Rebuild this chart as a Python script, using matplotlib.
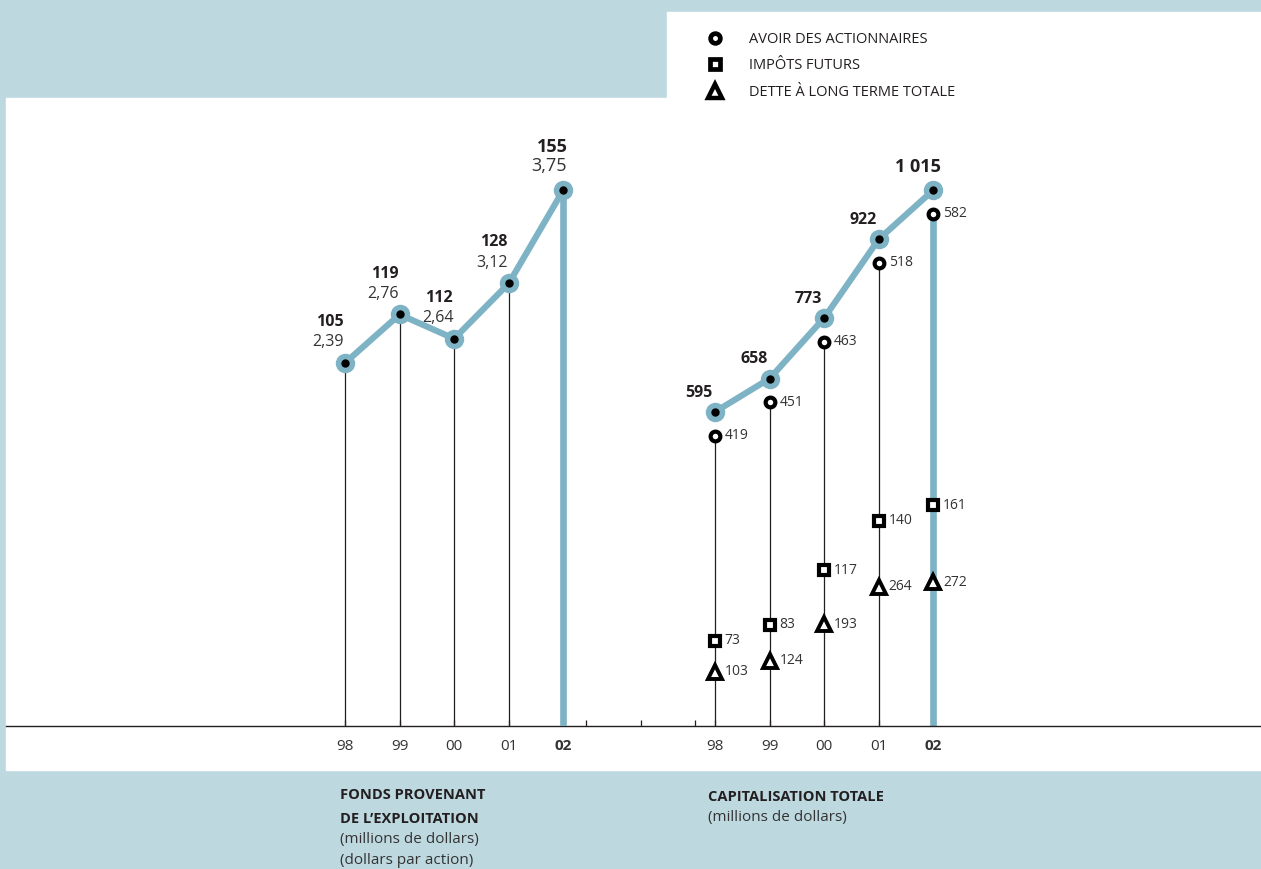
#!/usr/bin/env python3
"""
Fonds provenant de l'exploitation & capitalisation totale, 1998-2002
"""

import matplotlib.pyplot as plt
from matplotlib.lines import Line2D
import matplotlib.patches as mpatches
import numpy as np

plt.rcParams['font.family'] = ['Open Sans', 'DejaVu Sans']

# ---- data ----
years = ['98', '99', '00', '01', '02']
fonds = [105, 119, 112, 128, 155]                 # millions de dollars
fonds_action = ['2,39', '2,76', '2,64', '3,12', '3,75']  # dollars par action
capital_total = [595, 658, 773, 922, 1015]
avoir = [419, 451, 463, 518, 582]
impots = [73, 83, 117, 140, 161]
dette = [103, 124, 193, 264, 272]

BLUE = '#7eb3c5'
BG = '#bed8e0'
INK = '#231f20'

# layout (slot units along x)
x_left = np.arange(5)
x_right = np.arange(5) + 6.78
x_minor = [4.42, 5.42, 6.42]
GAP_CIRCLE = 45   # data units the "avoir" marker sits below the total point
GAP_SQUARE = 15

fig = plt.figure(figsize=(12.61, 8.69), dpi=100, facecolor=BG)

# white panels
fig.add_artist(mpatches.Rectangle((6 / 1261, 99 / 869), 1255 / 1261, 672 / 869,
                                  transform=fig.transFigure, color='white', zorder=0))
fig.add_artist(mpatches.Rectangle((667 / 1261, 771 / 869), 594 / 1261, 86 / 869,
                                  transform=fig.transFigure, color='white', zorder=0))

ax = fig.add_axes([6 / 1261, 143 / 869, 1255 / 1261, 628 / 869])
ax.set_facecolor('none')
ax.set_xlim(-6.21, 16.78)
top_right = 1015 * 628 / 536
ax.set_ylim(0, top_right)

axl = ax.twinx()
axl.set_ylim(0, top_right * fonds[-1] / capital_total[-1])

for a in (ax, axl):
    for s in a.spines.values():
        s.set_visible(False)
    a.set_yticks([])
ax.spines['bottom'].set_visible(True)
ax.spines['bottom'].set_linewidth(1.0)
ax.spines['bottom'].set_color(INK)

ax.set_xticks(list(x_left) + list(x_right))
ax.set_xticklabels(years + years)
ax.set_xticks(x_minor, minor=True)
ax.tick_params(axis='x', which='both', direction='in', length=4.5, width=0.9,
               color=INK, labelsize=11, labelcolor='#333333', pad=9.5)
for i, lab in enumerate(ax.get_xticklabels()):
    if years[i % 5] == '02':
        lab.set_fontweight('bold')

# =========== left: fonds provenant de l'exploitation ===========
axl.vlines(x_left[:-1], 0, fonds[:-1], color=INK, lw=0.9, zorder=2)
axl.vlines(x_left[-1], 0, fonds[-1], color=BLUE, lw=4.8, zorder=2)
axl.plot(x_left, fonds, color=BLUE, lw=4.5, marker='o', ms=13, mfc=BLUE, mec=BLUE,
         zorder=3, clip_on=False, solid_capstyle='round')
axl.plot(x_left, fonds, ls='none', marker='o', ms=5, color='black', zorder=4, clip_on=False)

for i, (x, v, d) in enumerate(zip(x_left, fonds, fonds_action)):
    last = i == len(fonds) - 1
    fs = 13 if last else 11.5
    axl.annotate(str(v), (x, v), xytext=(-8 if last else -11, 31 if last else 29.5),
                 textcoords='offset points', ha='center', va='center',
                 fontsize=fs, fontweight='bold', color=INK)
    axl.annotate(d, (x, v), xytext=(-10 if last else -12, 17 if last else 15),
                 textcoords='offset points', ha='center', va='center',
                 fontsize=fs, color='#333333')

# =========== right: capitalisation totale ===========
circle_y = [t - GAP_CIRCLE for t in capital_total]
square_y = [d + i - GAP_SQUARE for d, i in zip(dette, impots)]

ax.vlines(x_right[:-1], 0, circle_y[:-1], color=INK, lw=0.9, zorder=2)
ax.vlines(x_right[-1], 0, circle_y[-1], color=BLUE, lw=4.8, zorder=2)
ax.plot(x_right, capital_total, color=BLUE, lw=4.5, marker='o', ms=13, mfc=BLUE,
        mec=BLUE, zorder=3, clip_on=False, solid_capstyle='round')
ax.plot(x_right, capital_total, ls='none', marker='o', ms=5, color='black', zorder=4,
        clip_on=False)

mk = dict(ls='none', mfc='white', mec='black', zorder=5, clip_on=False)
ax.plot(x_right, circle_y, marker='o', ms=7, mew=3.0, **mk)
ax.plot(x_right, square_y, marker='s', ms=7.3, mew=3.0, **mk)
ax.plot(x_right, dette, marker='^', ms=10, mew=2.8, **mk)

for x, cy, sy, a_, i_, d_ in zip(x_right, circle_y, square_y, avoir, impots, dette):
    for y, v in ((cy, a_), (sy, i_), (d_, d_)):
        ax.annotate(str(v), (x, y), xytext=(7, 0), textcoords='offset points',
                    ha='left', va='center', fontsize=10, color='#333333')

for i, (x, t) in enumerate(zip(x_right, capital_total)):
    last = i == len(capital_total) - 1
    ax.annotate(f'{t:,}'.replace(',', ' '), (x, t),
                xytext=(-11.5, 16.5 if last else 13.7), textcoords='offset points',
                ha='center', va='center', fontsize=13 if last else 11.5,
                fontweight='bold', color=INK)

# =========== legend ===========
handles = [
    Line2D([], [], ls='none', marker='o', ms=7, mew=3.4, mfc='white', mec='black'),
    Line2D([], [], ls='none', marker='s', ms=7.3, mew=3.4, mfc='white', mec='black'),
    Line2D([], [], ls='none', marker='^', ms=10, mew=3.2, mfc='white', mec='black'),
]
labels = ['AVOIR DES ACTIONNAIRES', 'IMPÔTS FUTURS', 'DETTE À LONG TERME TOTALE']
fig.legend(handles, labels, loc='upper left', bbox_to_anchor=(708 / 1261, 1 - 32 / 869),
           frameon=False, fontsize=10.5, handlelength=1.0, handletextpad=1.8,
           borderpad=0, borderaxespad=0, labelspacing=0.78, labelcolor=INK)

# =========== bottom captions ===========
fig.text(340 / 1261, 1 - 795 / 869, 'FONDS PROVENANT', fontsize=10.5, fontweight='bold',
         color=INK, va='center')
fig.text(340 / 1261, 1 - 819 / 869, 'DE L’EXPLOITATION', fontsize=10.5, fontweight='bold',
         color=INK, va='center')
fig.text(340 / 1261, 1 - 839 / 869, '(millions de dollars)', fontsize=11,
         color='#333333', va='center')
fig.text(340 / 1261, 1 - 860 / 869, '(dollars par action)', fontsize=11,
         color='#333333', va='center')
fig.text(708 / 1261, 1 - 797 / 869, 'CAPITALISATION TOTALE', fontsize=10.5,
         fontweight='bold', color=INK, va='center')
fig.text(708 / 1261, 1 - 817 / 869, '(millions de dollars)', fontsize=11,
         color='#333333', va='center')

plt.savefig('out.png', dpi=100, facecolor=BG)
